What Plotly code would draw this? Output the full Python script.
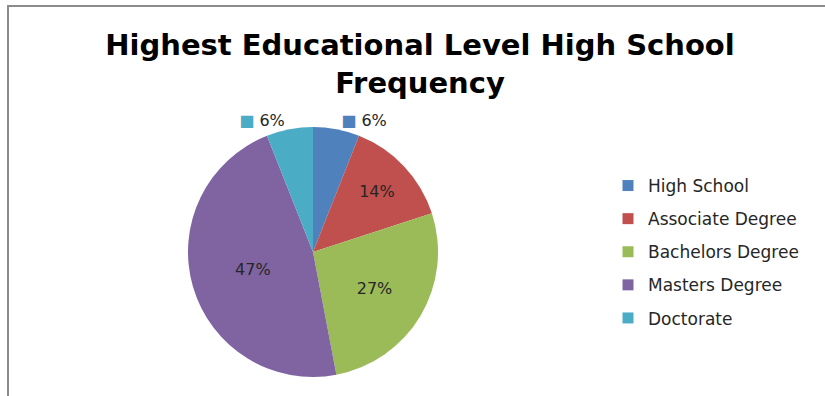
import plotly.graph_objects as go

# Survey results: highest educational level (percent of respondents)
categories = ["High School", "Associate Degree", "Bachelors Degree", "Masters Degree", "Doctorate"]
values = [6, 14, 27, 47, 6]
colors = ["#4F81BD", "#C0504D", "#9BBB59", "#8064A2", "#4BACC6"]

W, H = 825, 396

# Small slices get an outside label with a colour key in front of the percentage
positions = ["outside" if v < 10 else "inside" for v in values]
templates = [
    (f"<span style='color:{c}'>■</span> %{{percent:.0%}}" if p == "outside" else "%{percent:.0%}")
    for c, p in zip(colors, positions)
]

label_font = dict(family="DejaVu Sans", size=16, color="#262626")

fig = go.Figure()

fig.add_trace(go.Pie(
    labels=categories,
    values=values,
    sort=False,
    direction="clockwise",
    rotation=0,
    marker=dict(colors=colors, line=dict(width=0)),
    textposition=positions,
    texttemplate=templates,
    insidetextorientation="horizontal",
    textfont=label_font,
    outsidetextfont=label_font,
    showlegend=False,
    hoverinfo="label+percent",
    domain=dict(x=[188 / W, 438 / W], y=[1 - 377 / H, 1 - 127 / H]),
))

# Legend entries, one group per category so the rows can be spaced apart
for name, c in zip(categories, colors):
    fig.add_trace(go.Scatter(
        x=[None], y=[None], mode="markers", name=name, legendgroup=name,
        marker=dict(symbol="square", size=11, color=c),
    ))

fig.update_layout(
    width=W, height=H,
    margin=dict(l=0, r=0, t=0, b=0),
    paper_bgcolor="white",
    plot_bgcolor="white",
    xaxis=dict(visible=False),
    yaxis=dict(visible=False),
    title=dict(
        text="<b>Highest Educational Level High School<br>Frequency</b>",
        x=420 / W, xanchor="center",
        y=1 - 55 / H, yanchor="top",
        font=dict(family="DejaVu Sans", size=29, color="#000000"),
    ),
    legend=dict(
        x=608 / W, xanchor="left",
        y=1 - 168 / H, yanchor="top",
        font=dict(family="DejaVu Sans", size=17, color="#262626"),
        tracegroupgap=8,
        bgcolor="rgba(0,0,0,0)",
    ),
    shapes=[
        dict(type="rect", xref="paper", yref="paper",
             x0=8 / W, x1=1.05, y0=-0.05, y1=1 - 6 / H,
             line=dict(color="#8c8c8c", width=2), fillcolor="rgba(0,0,0,0)"),
    ],
)

fig.write_html("out.html")
